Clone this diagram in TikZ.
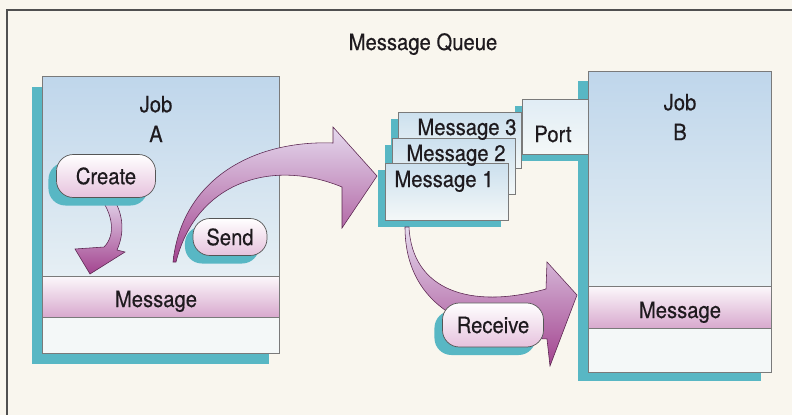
\documentclass[tikz,border=0pt]{standalone}
\usepackage{fontspec}
\setmainfont{TeX Gyre Heros}[FakeStretch=0.9,FakeBold=0.4]
\usepackage{tikz}
\usetikzlibrary{shadows}
\definecolor{paper}{HTML}{F9F6EE}
\definecolor{frameline}{HTML}{505050}
\definecolor{jobblue}{HTML}{BFD6EB}
\definecolor{jobpale}{HTML}{E6EFF4}
\definecolor{qblue}{HTML}{CCE0EE}
\definecolor{qpale}{HTML}{F4F8F8}
\definecolor{tealshade}{HTML}{58B7C4}
\definecolor{bandpink}{HTML}{D8A9CE}
\definecolor{pillpink}{HTML}{E6C2DD}
\definecolor{arrowdark}{HTML}{A3448F}
\definecolor{arrowlight}{HTML}{E5DAEE}
\definecolor{ink}{HTML}{1E1A1E}
\definecolor{edge}{HTML}{7A7A7A}

\begin{document}
\begin{tikzpicture}[
  x=0.025cm,y=-0.025cm,
  every node/.style={font=\fontsize{16}{21.3}\selectfont,text=ink,inner sep=0pt},
  txt/.style={anchor=base},
  boxline/.style={draw=edge,line width=0.5pt},
  jobbox/.style={boxline,fill=qpale,anchor=north west,
    general shadow={fill=tealshade,shadow xshift=-0.25cm,shadow yshift=-0.26cm}},
  jobtop/.style={top color=jobblue,bottom color=jobpale},
  jobband/.style={top color=white!92!bandpink,bottom color=bandpink},
  qbox/.style={boxline,top color=qblue,bottom color=qpale,anchor=north west,
    general shadow={fill=tealshade,shadow xshift=-0.175cm,shadow yshift=-0.175cm}},
  pill/.style={draw=edge!70!black,line width=0.5pt,rounded corners=12pt,
    top color=white,bottom color=pillpink,
    general shadow={fill=tealshade,shadow xshift=-0.2cm,shadow yshift=-0.2cm}},
  fatarrow/.style={draw=arrowdark!55!black,line width=0.4pt,
    top color=arrowlight,bottom color=arrowdark}
]
\useasboundingbox (0,0) rectangle (792,415);
\fill[paper] (0,0) rectangle (792,415);
\draw[frameline,line width=1pt] (7,415) -- (7,10) -- (792,10);

\node[txt] (title) at (423,50) {Message Queue};

% Job A
\node[jobbox,minimum width=5.925cm,minimum height=6.925cm] (jobA) at (42,76) {};
\shade[jobtop] (42,76) rectangle (279,276);
\shade[jobband] (42,276) rectangle (279,317);
\draw[boxline] (jobA.north west) rectangle (jobA.south east)
  (42,276) -- (279,276) (42,317) -- (279,317);
\node[align=center] (jobAname) at (156,119) {Job\\A};
\node[txt] (jobAmsg) at (156,307) {Message};

% Job B and its port
\fill[tealshade] (578,81) rectangle (761,381);
\node[qbox,top color=qblue!60!white,minimum width=1.65cm,minimum height=1.375cm] (port) at (522,99) {};
\node[boxline,fill=qpale,anchor=north west,minimum width=4.575cm,minimum height=7.525cm] (jobB) at (588,71) {};
\shade[jobtop] (588,71) rectangle (771,286);
\shade[jobband] (588,286) rectangle (771,328);
\draw[boxline] (jobB.north west) rectangle (jobB.south east)
  (588,286) -- (771,286) (588,328) -- (771,328);
\node[align=center] (jobBname) at (680,117) {Job\\B};
\node[txt] (jobBmsg) at (680,318) {Message};
\node[txt] (portname) at (553,142) {Port};

% queue
\node[qbox,minimum width=3.075cm,minimum height=1.4cm] (msg3) at (398,112) {};
\node[qbox,minimum width=3.075cm,minimum height=1.4cm] (msg2) at (392,138) {};
\node[qbox,minimum width=3.075cm,minimum height=1.425cm] (msg1) at (385,163) {};
\node[txt] (msg3name) at (467,135) {Message 3};
\node[txt] (msg2name) at (456,161) {Message 2};
\node[txt] (msg1name) at (444,187) {Message 1};

% fat arrows
\coordinate (createtip) at (90,274);
\coordinate (sendtail) at (173,262);
\coordinate (sendtip) at (377,176);
\coordinate (recvtail) at (405,227);
\coordinate (recvtip) at (577,295);
\shade[fatarrow] (99,196) .. controls (113,214) and (116,235) .. (104,247) -- (75,249)
  -- (createtip) -- (125,252) -- (117,250) .. controls (126,230) and (122,210) .. (111,195) -- cycle;
\shade[fatarrow] (sendtail) .. controls (182,178) and (255,140) .. (333,143) -- (333,127)
  -- (sendtip) -- (342,228) -- (342,187) .. controls (272,158) and (196,182) .. (176,262) -- cycle;
\shade[fatarrow] (recvtail) .. controls (405,300) and (460,335) .. (547,339) -- (550,366)
  -- (recvtip) -- (547,262) -- (546,289) .. controls (470,310) and (412,290) .. (409,227) -- cycle;

% actions
\node[pill,minimum width=2.475cm,minimum height=1.075cm] (create) at (106,176) {Create};
\node[pill,minimum width=1.85cm,minimum height=0.925cm] (send) at (230,237) {Send};
\node[pill,minimum width=2.525cm,minimum height=1.1cm] (receive) at (493,325) {Receive};
\end{tikzpicture}
\end{document}
